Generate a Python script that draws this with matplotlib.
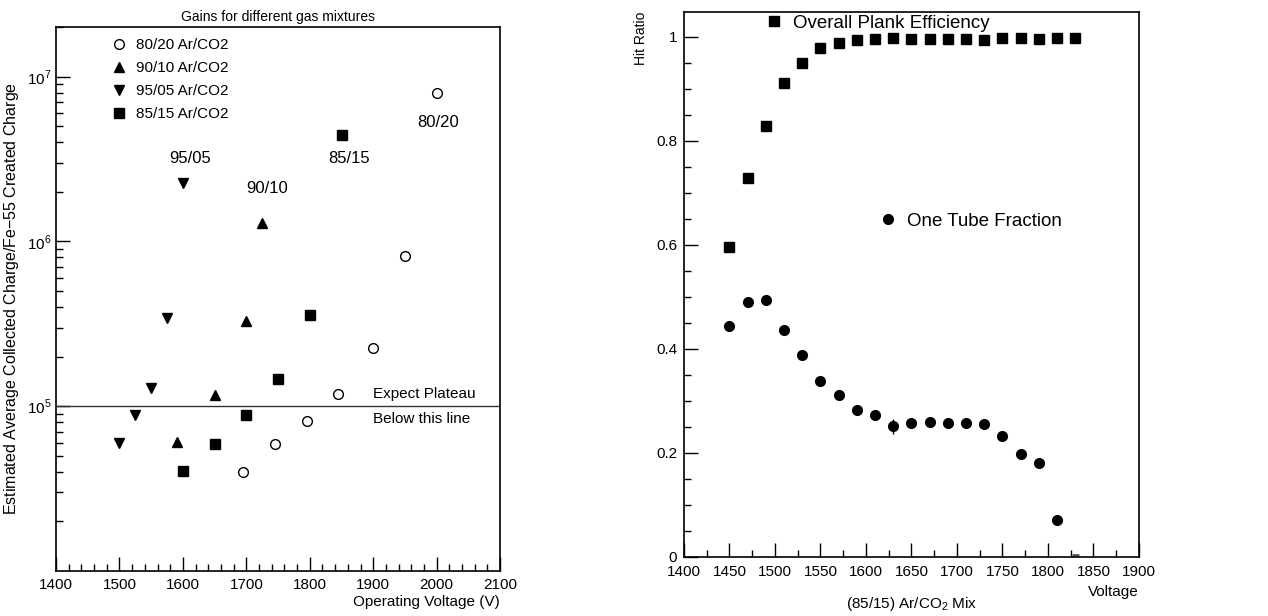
import numpy as np
import matplotlib
matplotlib.use('Agg')
import matplotlib.pyplot as plt
from matplotlib.lines import Line2D
from matplotlib.ticker import MultipleLocator, LogLocator, FixedLocator, FixedFormatter

plt.rcParams['font.family'] = ['Liberation Sans', 'DejaVu Sans']
plt.rcParams['mathtext.fontset'] = 'custom'
plt.rcParams['mathtext.rm'] = 'Liberation Sans'

## left panel: gains for different gas mixtures
v_8020 = [1695, 1745, 1795, 1845, 1900, 1950, 2000]
g_8020 = [4.0e4, 5.9e4, 8.1e4, 1.18e5, 2.27e5, 8.2e5, 8.0e6]

v_9010 = [1590, 1650, 1700, 1725]
g_9010 = [6.1e4, 1.17e5, 3.3e5, 1.3e6]

v_9505 = [1500, 1525, 1550, 1575, 1600]
g_9505 = [6.0e4, 8.8e4, 1.29e5, 3.43e5, 2.27e6]

v_8515 = [1600, 1650, 1700, 1750, 1800, 1850]
g_8515 = [4.05e4, 5.9e4, 8.85e4, 1.46e5, 3.6e5, 4.4e6]

mix_labels = ['95/05', '90/10', '85/15', '80/20']
mix_label_x = [1612, 1732, 1862, 2002]
mix_label_y = [3.2e6, 2.1e6, 3.2e6, 5.3e6]

plateau = 1e5

## right panel: (85/15) hit ratio vs voltage
volts = [1450, 1470, 1490, 1510, 1530, 1550, 1570, 1590, 1610, 1630,
         1650, 1670, 1690, 1710, 1730, 1750, 1770, 1790, 1810, 1830]
plank_eff = [0.596, 0.728, 0.828, 0.911, 0.950, 0.978, 0.989, 0.994, 0.997, 0.998,
             0.996, 0.997, 0.996, 0.997, 0.995, 0.998, 0.998, 0.997, 0.998, 0.998]
one_tube = [0.444, 0.491, 0.494, 0.437, 0.389, 0.338, 0.312, 0.282, 0.273, 0.251,
            0.258, 0.259, 0.257, 0.257, 0.255, 0.232, 0.198, 0.180, 0.071, 0.0]
one_tube_err = [0.003, 0.003, 0.003, 0.003, 0.003, 0.003, 0.003, 0.003, 0.003, 0.015,
                0.003, 0.003, 0.003, 0.003, 0.003, 0.003, 0.003, 0.003, 0.003, 0.0]

fig = plt.figure(figsize=(12.68, 6.16), dpi=100)

# ---------------- left ----------------
ax1 = fig.add_axes([0.0442, 0.0731, 0.3502, 0.8831])
ax1.set_yscale('log')
ax1.set_xlim(1400, 2100)
ax1.set_ylim(1e4, 2e7)

ms = 7
ax1.plot(v_8020, g_8020, 'o', mfc='white', mec='black', mew=1.0, ms=ms)
ax1.plot(v_9010, g_9010, '^', color='black', ms=ms)
ax1.plot(v_9505, g_9505, 'v', color='black', ms=ms)
ax1.plot(v_8515, g_8515, 's', color='black', ms=ms - 0.5)
ax1.axhline(plateau, color='#333333', lw=1.0)

for lab, x, y in zip(mix_labels, mix_label_x, mix_label_y):
    ax1.text(x, y, lab, ha='center', va='center', fontsize=12)

ax1.text(1900, 1.18e5, 'Expect Plateau', ha='left', va='center', fontsize=11)
ax1.text(1900, 8.4e4, 'Below this line', ha='left', va='center', fontsize=11)

handles = [
    Line2D([], [], ls='none', marker='o', mfc='white', mec='black', ms=ms),
    Line2D([], [], ls='none', marker='^', color='black', ms=ms),
    Line2D([], [], ls='none', marker='v', color='black', ms=ms),
    Line2D([], [], ls='none', marker='s', color='black', ms=ms - 0.5),
]
ax1.legend(handles, ['80/20 Ar/CO2', '90/10 Ar/CO2', '95/05 Ar/CO2', '85/15 Ar/CO2'],
           loc='upper left', bbox_to_anchor=(0.125, 0.98), frameon=False,
           fontsize=11, handlelength=1.0, handletextpad=0.6, labelspacing=0.6,
           borderpad=0, borderaxespad=0)

ax1.xaxis.set_major_locator(MultipleLocator(100))
ax1.xaxis.set_minor_locator(MultipleLocator(20))
ax1.yaxis.set_major_locator(FixedLocator([1e5, 1e6, 1e7]))
ax1.yaxis.set_major_formatter(FixedFormatter(['$10^{5}$', '$10^{6}$', '$10^{7}$']))
ax1.yaxis.set_minor_locator(LogLocator(base=10, subs=np.arange(2, 10)))
ax1.yaxis.set_minor_formatter(plt.NullFormatter())
ax1.tick_params(which='both', direction='in', top=False, right=False, labelsize=11)
ax1.tick_params(which='major', length=10, width=1)
ax1.tick_params(which='minor', length=5, width=1)
ax1.tick_params(axis='x', pad=5)
for s in ax1.spines.values():
    s.set_linewidth(1.2)

ax1.set_title('Gains for different gas mixtures', fontsize=10, pad=4)
ax1.set_xlabel('Operating Voltage (V)', fontsize=11, loc='right', labelpad=2)
ax1.set_ylabel('Estimated Average Collected Charge/Fe$-$55 Created Charge', fontsize=11.5, labelpad=4)

# ---------------- right ----------------
ax2 = fig.add_axes([0.5394, 0.0958, 0.3588, 0.8847])
ax2.set_xlim(1400, 1900)
ax2.set_ylim(0, 1.048)

ax2.plot(volts, plank_eff, 's', color='black', ms=6.5)
vt = [v for v, o in zip(volts, one_tube) if o > 0]
ot = [o for o in one_tube if o > 0]
ote = [e for e, o in zip(one_tube_err, one_tube) if o > 0]
ax2.errorbar(vt, ot, yerr=ote, fmt='o', color='black', ms=7, elinewidth=1, capsize=0)
# zero point at 1830 V shows only as a short dash on the axis
vz = [v for v, o in zip(volts, one_tube) if o == 0]
ax2.errorbar(vz, [0.003] * len(vz), xerr=4, fmt='none', ecolor='#555555', elinewidth=2,
             capsize=0, clip_on=False)

h_eff = Line2D([], [], ls='none', marker='s', color='black', ms=7)
h_one = Line2D([], [], ls='none', marker='o', color='black', ms=7)
leg1 = ax2.legend([h_eff], ['Overall Plank Efficiency'], loc='upper left',
                  bbox_to_anchor=(0.178, 0.995), frameon=False, fontsize=13.5,
                  handlelength=1.0, handletextpad=0.5, borderpad=0, borderaxespad=0)
ax2.add_artist(leg1)
ax2.legend([h_one], ['One Tube Fraction'], loc='upper left',
           bbox_to_anchor=(0.428, 0.632), frameon=False, fontsize=13.5,
           handlelength=1.0, handletextpad=0.5, borderpad=0, borderaxespad=0)

ax2.xaxis.set_major_locator(MultipleLocator(50))
ax2.xaxis.set_minor_locator(MultipleLocator(25))
ax2.yaxis.set_major_locator(FixedLocator([0, 0.2, 0.4, 0.6, 0.8, 1.0]))
ax2.yaxis.set_major_formatter(FixedFormatter(['0', '0.2', '0.4', '0.6', '0.8', '1']))
ax2.yaxis.set_minor_locator(MultipleLocator(0.05))
ax2.tick_params(which='both', direction='in', top=False, right=False, labelsize=11)
ax2.tick_params(which='major', length=10, width=1)
ax2.tick_params(which='minor', length=5, width=1)
ax2.tick_params(axis='y', pad=5)
ax2.tick_params(axis='x', pad=6)
for s in ax2.spines.values():
    s.set_linewidth(1.2)

ax2.set_ylabel('Hit Ratio', fontsize=10, loc='top', labelpad=6)
ax2.set_xlabel('Voltage', fontsize=11, loc='right', labelpad=4)
fig.text(0.719, 0.02, '(85/15) Ar/CO$_2$ Mix', ha='center', va='center', fontsize=11)

plt.savefig('out.png', dpi=100)
